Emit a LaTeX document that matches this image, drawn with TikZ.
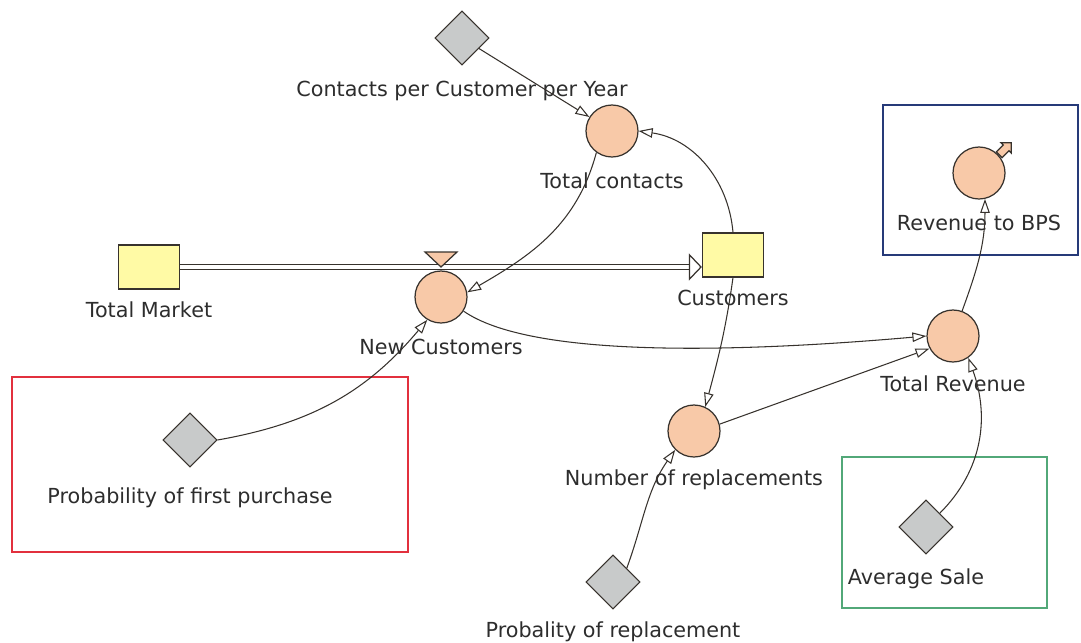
\documentclass[tikz,border=0pt]{standalone}
\usepackage{fontspec}
\setmainfont{DejaVu Sans}
\usepackage{tikz}
\usetikzlibrary{positioning,arrows.meta,shapes.geometric,shapes.arrows}
\definecolor{auxfill}{RGB}{248,201,168}
\definecolor{stockfill}{RGB}{255,250,165}
\definecolor{constfill}{RGB}{200,202,202}
\definecolor{edgegray}{RGB}{55,50,45}
\definecolor{lbltext}{RGB}{45,45,45}
\definecolor{firstred}{RGB}{226,48,62}
\definecolor{bpsblue}{RGB}{38,58,120}
\definecolor{salegreen}{RGB}{82,168,120}
\tikzset{
  auxvar/.style={circle,draw=edgegray,line width=0.7pt,fill=auxfill,minimum size=1.04cm,inner sep=0pt},
  stockbox/.style={rectangle,draw=edgegray,line width=0.7pt,fill=stockfill,minimum width=1.22cm,minimum height=0.88cm,inner sep=0pt},
  constvar/.style={diamond,draw=edgegray,line width=0.6pt,fill=constfill,minimum size=1.08cm,inner sep=0pt},
  lbl/.style={font=\fontsize{11.8}{13}\selectfont,text=lbltext,inner sep=0pt},
  link/.style={-{Triangle[open,length=2.8mm,width=1.9mm]},draw=edgegray,line width=0.6pt},
  pipe/.style={-{Triangle[open,length=2.6mm,width=5.4mm]},draw=edgegray,double=white,double distance=1.8pt,line width=0.7pt},
  outlet/.style={single arrow,draw=edgegray,line width=0.7pt,fill=auxfill,minimum height=0.34cm,inner sep=2pt,single arrow head extend=1.8pt},
  groupbox/.style={line width=1.4pt}
}
\begin{document}
\begin{tikzpicture}[x=0.02cm,y=0.02cm]
  \useasboundingbox (0,0) rectangle (1081,-642);
  % group frames
  \draw[groupbox,firstred] (12,-377) rectangle (408,-552);
  \draw[groupbox,bpsblue] (883,-105) rectangle (1078,-255);
  \draw[groupbox,salegreen] (842,-457) rectangle (1047,-608);

  % stocks and flow
  \node[stockbox] (market) at (149,-267) {};
  \node[stockbox] (cust) at (733,-255) {};
  \draw[pipe] (market.east) -- (market.east -| cust.west);
  \coordinate (valve) at (441,-267);
  \node[auxvar] (nc) at (441,-297) {};
  \draw[draw=edgegray,line width=0.7pt,fill=auxfill] (valve) -- ++(-16,15) -- ++(32,0) -- cycle;

  % auxiliaries and constants
  \node[auxvar] (tc) at (612,-131) {};
  \node[auxvar] (rbps) at (979,-173) {};
  \node[outlet,anchor=tail,rotate=45] (bpsOut) at (rbps.42) {};
  \node[auxvar] (tr) at (953,-336) {};
  \node[auxvar] (nor) at (694,-431) {};
  \node[constvar] (cpc) at (462,-38) {};
  \node[constvar] (pfp) at (190,-440) {};
  \node[constvar] (prep) at (613,-582) {};
  \node[constvar] (avg) at (926,-527) {};

  % labels
  \node[lbl,below=0.3cm of cpc] (cpcLbl) {Contacts per Customer per Year};
  \node[lbl,below=0.3cm of tc] (tcLbl) {Total contacts};
  \node[lbl,below=0.24cm of market] (marketLbl) {Total Market};
  \node[lbl,below=0.3cm of nc] (ncLbl) {New Customers};
  \node[lbl,below=0.24cm of cust] (custLbl) {Customers};
  \node[lbl,below=0.3cm of rbps] (rbpsLbl) {Revenue to BPS};
  \node[lbl,below=0.26cm of tr] (trLbl) {Total Revenue};
  \node[lbl,below=0.24cm of nor] (norLbl) {Number of replacements};
  \node[lbl,below=0.24cm of prep] (prepLbl) {Probality of replacement};
  \node[lbl,below=0.28cm of avg,xshift=-0.2cm] (avgLbl) {Average Sale};
  \node[lbl,below=0.4cm of pfp] (pfpLbl) {Probability of first purchase};

  % links
  \draw[link] (cpc) -- (tc);
  \draw[link] (cust.north) to[out=95,in=-8] (tc.east);
  \draw[link] (tc.234) to[out=255,in=30] (nc.10);
  \draw[link] (pfp.east) to[out=10,in=230] (nc.239);
  \draw[link] (nc.-32) .. controls +(-35:80) and +(185:200) .. (tr.west);
  \draw[link] (cust.south) to[out=-98,in=75] (nor.65);
  \draw[link] (nor.15) -- (tr.208);
  \draw[link] (prep.45) to[out=70,in=235] (nor.225);
  \draw[link] (avg.45) to[out=45,in=-70] (tr.-55);
  \draw[link] (tr.70) to[out=70,in=-90] (rbps.-77);
\end{tikzpicture}
\end{document}
